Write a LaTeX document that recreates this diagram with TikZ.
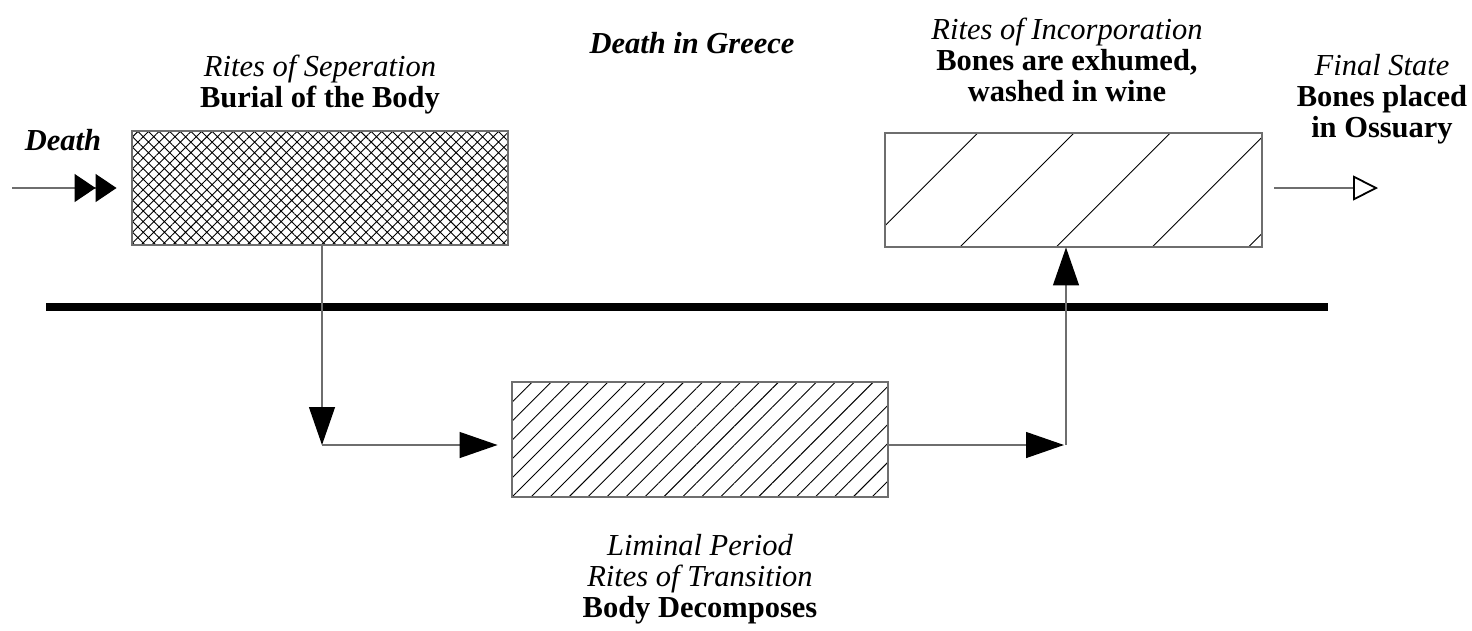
\documentclass[tikz,border=0pt]{standalone}
\usepackage{fontspec}
\setmainfont{Liberation Serif}
\usetikzlibrary{patterns.meta,arrows.meta}
\definecolor{linegray}{RGB}{110,110,110}
\begin{document}
\begin{tikzpicture}[x=1pt,y=-1pt,
  lbl/.style={align=center,inner sep=0pt,font=\fontsize{30.5}{31}\selectfont},
  box/.style={draw=linegray,line width=1.4pt,minimum width=376pt,minimum height=114pt,inner sep=0pt},
  conn/.style={draw=linegray,line width=1.3pt},
  bigtip/.style={-{Triangle[length=38pt,width=26pt,color=black,fill=black]}},
  dbltip/.style={-{Triangle[length=21pt,width=28pt,color=black,fill=black]Triangle[length=21pt,width=28pt,color=black,fill=black]}},
  opentip/.style={-{Triangle[open,length=25pt,width=25pt,line width=1.8pt,color=black]}}]
\useasboundingbox (0,0) rectangle (1472,630);

% boxes
\node[box,pattern={Hatch[angle=45,distance=7.5pt,line width=0.9pt]}] (sep) at (320,188) {};
\node[box,minimum height=115pt,pattern={Lines[angle=45,distance=13.4pt,line width=0.9pt]}] (lim) at (700,439.5) {};
\node[box,minimum width=377pt,pattern={Lines[angle=45,distance=68pt,line width=0.9pt]}] (inc) at (1073.5,190) {};

% thick line
\coordinate (h1) at (46,307);
\coordinate (h2) at (1328,307);
\draw[line width=8pt] (h1) -- (h2);

% connectors
\coordinate (d0) at (12,188);
\draw[conn,dbltip,shorten >=15pt] (d0) -- (sep.west);
\coordinate (c1) at (322,445);
\draw[conn,bigtip] (sep.south -| c1) -- (c1);
\draw[conn,bigtip,shorten >=14pt] (c1) -- (lim.west |- c1);
\coordinate (c2) at (1066,445);
\draw[conn,bigtip,shorten >=2pt] (lim.east |- c2) -- (c2);
\draw[conn,bigtip] (c2) -- (c2 |- inc.south);
\coordinate (f1) at (1378,188);
\draw[conn,opentip,shorten <=12pt] (inc.east |- f1) -- (f1);

% labels
\node[lbl] (title) at (692,43) {\bfseries\itshape Death in Greece};
\node[lbl] (tsep) at (320,85) {{\itshape Rites of Seperation}\\{\bfseries Burial of the Body}};
\node[lbl] (tdeath) at (63,140) {\bfseries\itshape Death};
\node[lbl] (tinc) at (1067,59.5) {{\itshape Rites of Incorporation}\\{\bfseries Bones are exhumed,}\\{\bfseries washed in wine}};
\node[lbl] (tfin) at (1382,99) {{\itshape Final State}\\{\bfseries Bones placed}\\{\bfseries in Ossuary}};
\node[lbl] (tlim) at (700,579.5) {{\itshape Liminal Period}\\{\itshape Rites of Transition}\\{\bfseries Body Decomposes}};
\end{tikzpicture}
\end{document}
